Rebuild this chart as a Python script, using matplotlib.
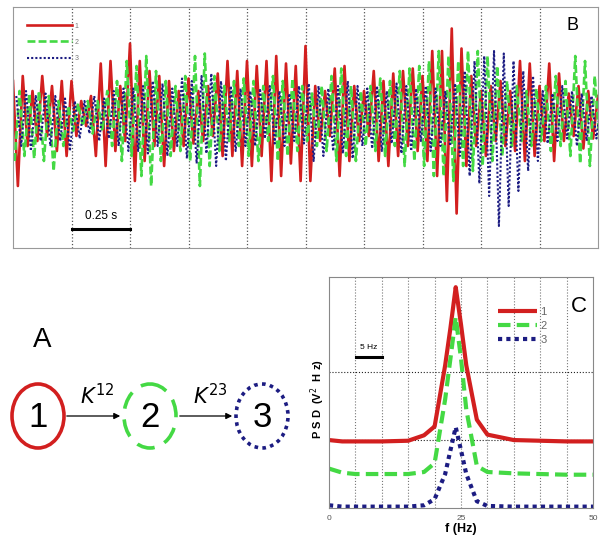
import matplotlib.pyplot as plt
from matplotlib.patches import Ellipse
import numpy as np

plt.rcParams["font.family"] = ["Liberation Sans", "DejaVu Sans"]

# ---- panel B: peak / trough values of the three traces (one row = 0.25 s) ----
red_ext = [
    0.7, -1.4, 0.8, -0.6, 0.5, -0.5, 0.8, -0.4, 0.6, -0.7, 0.7, -0.8,
    0.7, -0.4, 0.3, -0.2, 0.4, -0.8, 1.05, -1.0, 1.1, -0.7, 0.6, -0.5,
    1.45, -1.3, 1.1, -0.9, 0.9, -0.6, 0.8, -1.0, 0.7, -0.7, 0.5, -0.6,
    0.75, -0.55, 0.5, -0.5, 0.6, -0.4, 0.85, -0.8, 1.1, -0.8, 0.9, -1.0,
    1.1, -1.0, 1.0, -0.8, 1.1, -1.3, 1.2, -1.2, 1.05, -0.95, 1.0, -1.3,
    1.4, -1.3, 0.6, -0.5, 0.5, -0.4, 0.95, -1.2, 1.0, -0.9, 0.6, -0.5,
    0.5, -0.4, 0.9, -0.9, 0.7, -1.0, 0.85, -0.8, 0.9, -0.6, 0.95, -0.7,
    0.8, -0.9, 1.3, -1.2, 1.3, -1.7, 1.75, -1.95, 1.35, -1.0, 0.8, -0.6,
    0.5, -0.8, 0.6, -0.5, 0.7, -0.6, 0.5, -0.7, 1.1, -0.9, 1.05, -0.8,
    0.6, -0.5, 1.05, -0.9, 0.85, -0.5, 0.45, -0.4, 0.6, -0.65, 0.5, -0.45,
    0.4,
]
green_ext = [
    -0.9, 0.5, -0.8, 0.45, -0.85, 0.5, -0.9, 0.4, -1.1, 0.3, -0.6, 0.2,
    -0.3, 0.25, -0.2, 0.3, -0.35, 0.3, -0.3, 0.5, -0.6, 0.7, -0.9, 1.1,
    -0.8, 1.0, -1.2, 1.2, -1.4, 0.9, -0.9, 0.7, -0.8, 0.6, -0.7, 0.8,
    -0.9, 1.2, -1.4, 1.25, -1.0, 0.8, -0.7, 0.6, -0.5, 0.7, -0.6, 0.75,
    -0.8, 0.7, -0.9, 0.6, -0.5, 0.8, -0.9, 0.7, -0.8, 0.75, -0.7, 0.6,
    -0.5, 0.45, -0.6, 0.6, -0.7, 0.8, -0.9, 0.95, -0.8, 0.6, -0.9, 0.5,
    -0.6, 0.6, -0.7, 0.75, -0.8, 0.7, -0.6, 0.9, -1.0, 0.95, -0.9, 1.0,
    -1.0, 1.1, -1.2, 1.3, -1.2, 1.2, -1.3, 1.1, -1.0, 1.3, -1.1, 1.3,
    -1.0, 1.2, -0.9, 1.0, -0.8, 0.7, -0.6, 0.6, -0.5, 0.5, -0.6, 0.55,
    -0.5, 0.6, -0.7, 0.8, -0.6, 0.7, -0.8, 1.2, -0.95, 1.1, -1.0, 0.8,
    -0.6,
]
blue_ext = [
    0.4, -0.6, 0.5, -0.7, 0.4, -0.5, 0.45, -0.6, 0.4, -0.5, 0.35, -0.7,
    0.3, -0.45, 0.3, -0.35, 0.4, -0.5, 0.35, -0.45, 0.5, -0.6, 0.55, -0.7,
    0.55, -0.7, 0.6, -0.75, 0.7, -0.6, 0.65, -0.8, 0.55, -0.6, 0.75, -0.85,
    0.7, -0.95, 0.8, -0.75, 0.85, -1.0, 0.7, -0.9, 0.6, -0.7, 0.55, -0.6,
    0.5, -0.6, 0.55, -0.45, 0.6, -0.55, 0.5, -0.6, 0.45, -0.5, 0.6, -0.55,
    0.65, -0.9, 0.6, -0.8, 0.55, -0.7, 0.6, -0.75, 0.7, -0.85, 0.6, -0.6,
    0.55, -0.65, 0.6, -0.7, 0.5, -0.55, 0.65, -0.75, 0.6, -0.7, 0.55, -0.5,
    0.6, -0.7, 0.55, -0.6, 0.5, -0.6, 0.65, -0.8, 0.9, -1.2, 1.1, -1.35,
    1.2, -1.6, 1.3, -2.2, 1.25, -1.8, 1.1, -1.5, 0.9, -1.1, 0.8, -0.9,
    0.5, -0.55, 0.45, -0.5, 0.6, -0.45, 0.5, -0.6, 0.45, -0.5, 0.4, -0.45,
    0.3,
]
half_period = 1 / 48  # s, extrema spacing of a ~24 Hz rhythm
lags = [0.0, 0.007, 0.014]

# ---- panel C: power spectra ----
freq = [0, 2.5, 5, 10, 15, 18, 20, 22, 23, 24, 25, 26, 28, 30, 35, 40, 45, 50]
psd1 = [1.0, 0.98, 0.98, 0.98, 0.99, 1.07, 1.2, 2.1, 2.65, 3.25, 2.7, 2.1, 1.3, 1.08, 1.0, 0.99, 0.98, 0.98]
psd2 = [0.58, 0.52, 0.5, 0.5, 0.5, 0.53, 0.66, 1.6, 2.2, 2.81, 2.2, 1.45, 0.62, 0.53, 0.51, 0.5, 0.49, 0.49]
psd3 = [0.04, 0.02, 0.02, 0.02, 0.02, 0.04, 0.13, 0.5, 0.85, 1.19, 0.85, 0.5, 0.1, 0.03, 0.02, 0.02, 0.02, 0.02]

labels = ["1", "2", "3"]
colors = ["#d21f1f", "#44d944", "#1c1c82"]
styles = ["-", (0, (3, 1.2)), (0, (1, 1))]

W, H = 600, 539
fig = plt.figure(figsize=(6, 5.39), dpi=100)


def px_axes(x0, y0, x1, y1):
    return fig.add_axes([x0 / W, 1 - y1 / H, (x1 - x0) / W, (y1 - y0) / H])


# ---------------- B ----------------
axb = px_axes(13, 7, 598, 248)
for ext, lag, c, ls, lab, lw in zip([red_ext, green_ext, blue_ext], lags, colors, styles, labels, [1.9, 1.9, 1.5]):
    t = np.arange(len(ext)) * half_period + lag
    axb.plot(t, ext, color=c, ls=ls, lw=lw, label=lab)
axb.set_xlim(0, 2.5)
axb.set_ylim(-2.64, 2.18)
axb.set_xticks(np.arange(0.25, 2.5, 0.25))
axb.set_yticks([])
axb.tick_params(length=0, labelbottom=False)
axb.grid(axis="x", ls=":", color="#555555", lw=0.9)
for s in axb.spines.values():
    s.set_color("#999999")
axb.plot([0.25, 0.5], [-2.26, -2.26], color="black", lw=2.2)
axb.text(0.375, -2.0, "0.25 s", ha="center", va="center", fontsize=8.5)
axb.text(2.39, 1.8, "B", ha="center", va="center", fontsize=13)
leg = axb.legend(loc="upper left", bbox_to_anchor=(0.018, 0.95), fontsize=5, frameon=False,
                 handlelength=6.5, labelspacing=1.35, handletextpad=0.4, borderpad=0)
for txt in leg.get_texts():
    txt.set_color("#777777")

# ---------------- C ----------------
axc = px_axes(329, 277, 593, 508)
for p, c, ls, lab in zip([psd1, psd2, psd3], colors, [(0, (1, 0)), (0, (3, 1.5)), (0, (1, 1))], labels):
    axc.plot(freq, p, color=c, ls=ls, lw=3, label=lab)
axc.set_xlim(0, 50)
axc.set_ylim(0, 3.4)
axc.set_xticks(np.arange(5, 50, 5))
axc.set_yticks([1, 2])
axc.grid(axis="x", ls=":", color="#777777", lw=0.8)
axc.grid(axis="y", ls=":", color="#222222", lw=0.8)
axc.tick_params(length=0, labelleft=False, labelbottom=False)
for f in [0, 25, 50]:
    axc.text(f, -0.15, str(f), ha="center", va="center", fontsize=6, color="#555555")
axc.text(25, -0.31, "f (Hz)", ha="center", va="center", fontsize=9, fontweight="bold")
axc.text(-0.3, 1.6, "P S D  (V$^2$  H z)", rotation=90, ha="right", va="center",
         fontsize=8, fontweight="bold")
for s in axc.spines.values():
    s.set_color("#888888")
axc.plot([5.2, 10], [2.22, 2.22], color="black", lw=2.2)
axc.text(7.6, 2.36, "5 Hz", ha="center", va="center", fontsize=6)
axc.text(47.3, 2.97, "C", ha="center", va="center", fontsize=16)
leg2 = axc.legend(loc="upper left", bbox_to_anchor=(0.62, 0.895), fontsize=8, frameon=False,
                  handlelength=3.5, labelspacing=0.35, handletextpad=0.3, borderpad=0)
for txt in leg2.get_texts():
    txt.set_color("#666666")

# ---------------- A ----------------
axa = px_axes(0, 290, 320, 539)
axa.set_xlim(0, 320)
axa.set_ylim(539, 290)
axa.axis("off")
node_x = [38, 150, 262]
node_y = 416
node_ls = ["-", (0, (5, 3)), (0, (1, 1.2))]
for i, (nx, c, ls) in enumerate(zip(node_x, colors, node_ls)):
    axa.add_patch(Ellipse((nx, node_y), 52, 64, fill=False, ec=c, ls=ls, lw=2.6))
    axa.text(nx, node_y + 2, labels[i], ha="center", va="center", fontsize=25)
for x0, x1, k in [(64, 123, "$K^{12}$"), (177, 235, "$K^{23}$")]:
    axa.annotate("", xy=(x1, node_y), xytext=(x0, node_y),
                 arrowprops=dict(arrowstyle="-|>", color="black", lw=0.9, mutation_scale=9))
    axa.text((x0 + x1) / 2 + 4, node_y - 20, k, ha="center", va="center", fontsize=15)
axa.text(42, 340, "A", ha="center", va="center", fontsize=20)

fig.savefig("out.png", dpi=100)
